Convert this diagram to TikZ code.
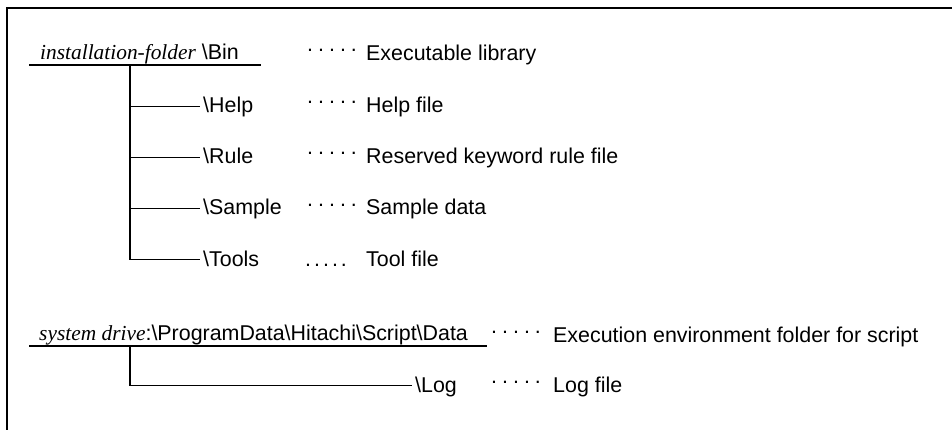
\documentclass[tikz,border=0pt]{standalone}
\usepackage{fontspec}
\setmainfont{Liberation Sans}
\newfontfamily\tms{Liberation Serif}
\usetikzlibrary{calc}
\newcommand\middots{\raisebox{9pt}{.\kern5pt.\kern5pt.\kern5pt.\kern5pt.}}
\newcommand\lowdots{.\kern3pt.\kern3pt.\kern3pt.\kern3pt.}
\begin{document}
\begin{tikzpicture}[x=1pt,y=-1pt,
  txt/.style={inner sep=0pt, anchor=base west, font=\fontsize{21.4}{25}\selectfont},
  ln/.style={line width=1.7pt},
  frame/.style={line width=2pt}]
\useasboundingbox (0,0) rectangle (952,430);
\coordinate (fb) at (6.5,432);
\coordinate (fc) at (6.5,8.5);
\coordinate (fr) at (954,8.5);
\draw[frame] (fb) -- (fc) -- (fr);

% first tree
\node[txt] (bin) at (40,60) {{\tms\itshape installation-folder} \textbackslash Bin};
\coordinate (binL) at (29,65);
\coordinate (binR) at (261,65);
\coordinate (trunk) at (130,65);
\draw[ln] (binL) -- (binR);
\node[txt] (bindots) at (307,61) {\middots};
\node[txt] (bindesc) at (366,61) {Executable library};

\node[txt] (help) at (203,113) {\textbackslash Help};
\node[txt] (helpdots) at (307,113) {\middots};
\node[txt] (helpdesc) at (366,113) {Help file};

\node[txt] (rule) at (203,164) {\textbackslash Rule};
\node[txt] (ruledots) at (307,164) {\middots};
\node[txt] (ruledesc) at (366,164) {Reserved keyword rule file};

\node[txt] (sample) at (203,215) {\textbackslash Sample};
\node[txt] (sampledots) at (307,215) {\middots};
\node[txt] (sampledesc) at (366,215) {Sample data};

\node[txt] (tools) at (203,266) {\textbackslash Tools};
\node[txt] (toolsdots) at (305,266) {\lowdots};
\node[txt] (toolsdesc) at (366,266) {Tool file};

\foreach \n in {help,rule,sample,tools}
  \draw[ln] (trunk) |- ($(\n.base west)+(-3,-6.5)$);

% second tree
\node[txt] (sys) at (39,340) {{\tms\itshape system drive}:\textbackslash ProgramData\textbackslash Hitachi\textbackslash Script\textbackslash Data};
\coordinate (sysL) at (29,346);
\coordinate (sysR) at (487,346);
\coordinate (trunkB) at (130,346);
\draw[ln] (sysL) -- (sysR);
\node[txt] (sysdots) at (491,342) {\middots};
\node[txt] (sysdesc) at (553,342) {Execution environment folder for script};

\node[txt] (log) at (415,392) {\textbackslash Log};
\node[txt] (logdots) at (491,392) {\middots};
\node[txt] (logdesc) at (553,392) {Log file};
\draw[ln] (trunkB) |- ($(log.base west)+(-3,-6.5)$);
\end{tikzpicture}
\end{document}
